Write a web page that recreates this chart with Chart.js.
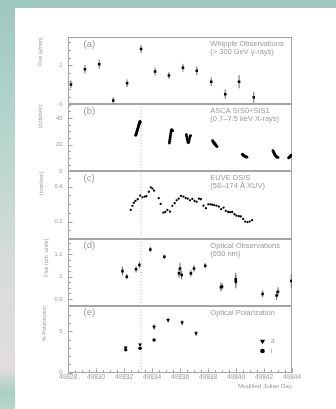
<!DOCTYPE html>
<html>
<head>
<meta charset="utf-8">
<script src="https://cdn.jsdelivr.net/npm/chart.js@4.4.1/dist/chart.umd.min.js"></script>
<style>
    html, body { margin: 0; padding: 0; }
    body {
        width: 336px; height: 409px; overflow: hidden; position: relative;
        background: linear-gradient(to bottom, #9fc8bf 0%, #b4d4cc 30%, #d6dcda 65%, #e2dddd 90%, #a9cfc5 96%, #b8d6cd 100%);
    }
    #sheet { position: absolute; left: 15px; top: 8px; right: 0; bottom: 0; background: #fff; }
    canvas { position: absolute; left: 0; top: 0; }
</style>
</head>
<body>
<div id="sheet"></div>
<canvas id="panelA" width="336" height="409"></canvas>
<canvas id="panelB" width="336" height="409"></canvas>
<canvas id="panelC" width="336" height="409"></canvas>
<canvas id="panelD" width="336" height="409"></canvas>
<canvas id="panelE" width="336" height="409"></canvas>
<script>
// Shared time axis
const MJD_MIN = 49828;
const MJD_MAX = 49844;
const MJD_TICK_LABELS = [49828, 49830, 49832, 49834, 49836, 49838, 49840, 49842, 49844];
const FLARE_MJD = 49833.22;

// (a) Whipple, > 300 GeV gamma rays
const WHIPPLE_MJD = [49828.21, 49829.21, 49830.23, 49831.23, 49832.22, 49833.22, 49834.22,
    49835.21, 49836.21, 49837.20, 49838.23, 49839.23, 49840.22, 49841.27];
const WHIPPLE_FLUX = [0.51, 0.90, 1.03, 0.10, 0.54, 1.42, 0.84, 0.74, 0.94, 0.86, 0.58, 0.26, 0.58, 0.18];
const WHIPPLE_ERR = [0.10, 0.11, 0.12, 0.08, 0.10, 0.10, 0.10, 0.09, 0.10, 0.11, 0.11, 0.12, 0.17, 0.14];

// (b) ASCA SIS0+SIS1
const ASCA_MJD = [
    49832.84, 49832.86, 49832.88, 49832.90, 49832.92, 49832.94, 49832.96, 49832.98, 49833.00,
    49833.02, 49833.04, 49833.06, 49833.08, 49833.10, 49833.12, 49833.14, 49833.16,
    49835.24, 49835.26, 49835.28, 49835.30, 49835.32, 49835.34, 49835.36, 49835.38, 49835.41, 49835.44, 49835.47,
    49836.45, 49836.48, 49836.51, 49836.54, 49836.57, 49836.60, 49836.63, 49836.66, 49836.69, 49836.72, 49836.75,
    49838.33, 49838.36, 49838.39, 49838.42, 49838.44, 49838.47, 49838.50, 49838.53, 49838.56, 49838.60, 49838.64,
    49840.46, 49840.49, 49840.52, 49840.55, 49840.58, 49840.62, 49840.66, 49840.70, 49840.74, 49840.78,
    49842.64, 49842.67, 49842.70, 49842.73, 49842.76, 49842.80, 49842.84, 49842.88, 49842.92, 49842.96, 49843.00,
    49843.76, 49843.79, 49843.82, 49843.85, 49843.88, 49843.91, 49843.94, 49843.97
];
const ASCA_RATE = [
    27.0, 27.6, 28.3, 28.9, 29.7, 30.4, 31.0, 31.8, 32.5, 33.1, 33.9, 34.6, 35.3, 36.0, 36.8, 37.3, 36.6,
    21.2, 22.6, 24.0, 25.5, 26.9, 28.3, 29.6, 30.6, 31.2, 30.7, 30.3,
    27.4, 25.9, 24.4, 23.0, 21.7, 21.3, 22.3, 23.6, 24.9, 26.0, 26.8,
    22.9, 22.1, 21.6, 21.9, 20.9, 20.4, 20.8, 19.9, 19.4, 19.0, 18.6,
    12.8, 12.4, 12.0, 11.7, 11.5, 11.2, 11.0, 10.8, 10.7, 10.6,
    15.4, 14.8, 14.1, 13.4, 12.7, 12.0, 11.4, 11.0, 10.7, 10.5, 10.4,
    10.0, 10.3, 10.6, 10.9, 11.3, 11.6, 11.9, 12.1
];

// (c) EUVE DS/S
const EUVE_MJD = [
    49832.48, 49832.60, 49832.70, 49832.82, 49832.98, 49833.15, 49833.32, 49833.48, 49833.60, 49833.77,
    49833.91, 49834.03, 49834.15, 49834.48, 49834.62, 49834.81, 49834.95, 49835.10, 49835.29, 49835.45,
    49835.62, 49835.76, 49835.90, 49836.07, 49836.24, 49836.40, 49836.55, 49836.71, 49836.88, 49837.04,
    49837.19, 49837.35, 49837.49, 49837.68, 49837.85, 49838.02, 49838.16, 49838.30, 49838.44, 49838.61,
    49838.78, 49838.94, 49839.11, 49839.27, 49839.44, 49839.58, 49839.73, 49839.89, 49840.03, 49840.20,
    49840.34, 49840.51, 49840.65, 49840.82, 49840.98, 49841.15
];
const EUVE_RATE = [
    0.267, 0.290, 0.307, 0.318, 0.328, 0.349, 0.339, 0.343, 0.345, 0.371,
    0.396, 0.389, 0.377, 0.334, 0.301, 0.251, 0.255, 0.267, 0.257, 0.290,
    0.305, 0.322, 0.331, 0.347, 0.343, 0.335, 0.331, 0.322, 0.330, 0.318,
    0.313, 0.331, 0.328, 0.291, 0.277, 0.299, 0.299, 0.297, 0.294, 0.291,
    0.286, 0.271, 0.280, 0.261, 0.255, 0.254, 0.255, 0.242, 0.234, 0.231,
    0.229, 0.215, 0.200, 0.197, 0.200, 0.208
];

// (d) Optical photometry, 650 nm
const OPT_MJD = [49831.89, 49832.20, 49832.86, 49833.10, 49833.88, 49834.88, 49835.93, 49836.00, 49836.12, 49836.78,
    49837.00, 49837.80, 49838.92, 49839.00, 49839.98, 49839.99, 49841.90, 49842.90, 49843.00, 49843.95];
const OPT_FLUX = [1.025, 1.000, 1.033, 1.052, 1.122, 1.089, 1.015, 1.037, 1.008, 1.015,
    1.037, 1.049, 0.953, 0.956, 0.988, 0.978, 0.923, 0.916, 0.933, 0.981];
const OPT_ERR = [0.020, 0.012, 0.015, 0.015, 0.012, 0.010, 0.020, 0.025, 0.020, 0.015,
    0.015, 0.012, 0.020, 0.015, 0.030, 0.030, 0.015, 0.020, 0.020, 0.030];

// (e) Optical polarization
const POL_A_MJD = [49832.12, 49833.15, 49834.15, 49835.15, 49836.15, 49837.15];
const POL_A = [3.02, 3.39, 5.53, 6.37, 6.05, 4.76];
const POL_A_ERR = [0.15, 0.15, 0.35, 0.30, 0.30, 0.30];
const POL_I_MJD = [49832.12, 49833.15, 49834.15];
const POL_I = [2.78, 2.95, 3.95];

// Look
const FONT = '"Liberation Sans", Arial, sans-serif';
const TEXT = '#9a9a9a';
const FRAME = '#a4a4a4';
const INK = '#000';
const ERR_INK = '#6a6a6a';
const AXIS_W = 68;
const RIGHT_PAD = 44;
const CANVAS_H = 409;

Chart.defaults.font.family = FONT;

// Build chart data from the arrays
const pts = (xs, ys) => xs.map((x, i) => ({ x, y: ys[i] }));
const errBars = (xs, ys, es) => xs.flatMap((x, i) => [
    { x, y: ys[i] - es[i] }, { x, y: ys[i] + es[i] }, { x, y: null }
]);
const flareLine = (lo, hi) => ({
    type: 'line', data: [{ x: FLARE_MJD, y: lo }, { x: FLARE_MJD, y: hi }],
    borderColor: '#b4b4b4', borderWidth: 1, borderDash: [1, 2], pointRadius: 0, order: 3
});
const errSet = data => ({
    type: 'line', data, borderColor: ERR_INK, borderWidth: 1, pointRadius: 0, spanGaps: false, order: 2
});
const pointSet = (data, style, radius, extra) => Object.assign({
    type: 'scatter', data, pointStyle: style, pointRadius: radius, pointBorderWidth: 0,
    backgroundColor: INK, borderColor: INK, order: 0
}, extra || {});

// Frame, inward ticks, panel texts, legend
const panelDecor = {
    id: 'panelDecor',
    beforeDatasetsDraw(chart, args, opts) {
        const { ctx, chartArea: a, scales } = chart;
        ctx.save();
        ctx.strokeStyle = FRAME;
        ctx.lineWidth = 1;
        const L = Math.round(a.left) + 0.5, R = Math.round(a.right) - 0.5;
        const T = Math.round(a.top) + 0.5, B = Math.round(a.bottom) - 0.5;
        ctx.strokeRect(L, T, R - L, B - T);
        ctx.beginPath();
        scales.y.ticks.forEach(t => {
            const py = Math.round(scales.y.getPixelForValue(t.value)) + 0.5;
            const len = opts.yMajor.some(v => Math.abs(v - t.value) < 1e-9) ? 4 : 2.5;
            ctx.moveTo(L, py); ctx.lineTo(L + len, py);
        });
        if (opts.xTicks) {
            scales.x.ticks.forEach(t => {
                const px = Math.round(scales.x.getPixelForValue(t.value)) + 0.5;
                const len = MJD_TICK_LABELS.includes(t.value) ? 4 : 2.5;
                ctx.moveTo(px, B); ctx.lineTo(px, B - len);
            });
        }
        ctx.stroke();
        ctx.restore();
    },
    afterDatasetsDraw(chart, args, opts) {
        const { ctx, chartArea: a } = chart;
        ctx.save();
        ctx.fillStyle = TEXT;
        ctx.textBaseline = 'middle';
        ctx.textAlign = 'left';
        ctx.font = '9.5px ' + FONT;
        ctx.fillText(opts.label, a.left + 15.5, a.top + 6.8);
        ctx.font = '7.5px ' + FONT;
        opts.lines.forEach((s, i) => ctx.fillText(s, a.left + 142.3, a.top + 6.8 + i * 8.3));
        if (opts.legend) {
            const lx = a.left + 194.5;
            const ty = a.top + 35.7, cy = a.top + 45;
            ctx.fillStyle = INK;
            ctx.beginPath();
            ctx.moveTo(lx - 2.6, ty - 2); ctx.lineTo(lx + 2.6, ty - 2); ctx.lineTo(lx, ty + 2.5);
            ctx.closePath(); ctx.fill();
            ctx.beginPath(); ctx.arc(lx, cy, 2.3, 0, Math.PI * 2); ctx.fill();
            ctx.fillStyle = TEXT;
            ctx.font = '6.5px ' + FONT;
            ctx.fillText(opts.legend[0], lx + 8.5, ty);
            ctx.fillText(opts.legend[1], lx + 8.5, cy);
        }
        ctx.restore();
    }
};

function yAxis(min, max, step, labels, title, titleOffset) {
    return {
        type: 'linear', min, max,
        afterFit: s => { s.width = AXIS_W; },
        grid: { display: false, drawTicks: false, tickLength: 0 },
        border: { display: false },
        ticks: {
            stepSize: step, autoSkip: false, includeBounds: false, padding: 5.5,
            color: TEXT, font: { size: 5.8 },
            callback: v => {
                const m = labels.find(l => Math.abs(l - v) < 1e-9);
                return m === undefined ? '' : String(m);
            }
        },
        title: { display: true, text: title, align: 'end', color: TEXT, font: { size: 5.5 }, padding: { top: titleOffset, bottom: 0 } }
    };
}

function xAxis(show) {
    if (!show) return { type: 'linear', min: MJD_MIN, max: MJD_MAX, display: false };
    return {
        type: 'linear', min: MJD_MIN, max: MJD_MAX,
        afterFit: s => { s.height = 20; },
        grid: { display: false, drawTicks: false, tickLength: 0 },
        border: { display: false },
        ticks: {
            stepSize: 0.5, autoSkip: false, includeBounds: false, maxRotation: 0, minRotation: 0, padding: 1,
            color: TEXT, font: { size: 6.5 },
            callback: v => MJD_TICK_LABELS.includes(v) ? String(v) : ''
        },
        title: { display: true, text: 'Modified Julian Day', align: 'end', color: TEXT, font: { size: 6.2 }, padding: { top: 0, bottom: 3 } }
    };
}

function makePanel(id, top, bottom, datasets, y, decor, showX) {
    new Chart(document.getElementById(id), {
        type: 'scatter',
        data: { datasets },
        options: {
            responsive: false,
            animation: false,
            events: [],
            devicePixelRatio: 1,
            layout: { padding: { top, bottom: CANVAS_H - bottom - (showX ? 20 : 0), left: 0, right: RIGHT_PAD } },
            scales: { x: xAxis(showX), y },
            plugins: { legend: { display: false }, tooltip: { enabled: false }, panelDecor: decor }
        },
        plugins: [panelDecor]
    });
}

// (a)
makePanel('panelA', 37.3, 104.3, [
    pointSet(pts(WHIPPLE_MJD, WHIPPLE_FLUX), 'rect', 1.8),
    errSet(errBars(WHIPPLE_MJD, WHIPPLE_FLUX, WHIPPLE_ERR))
], yAxis(0, 1.72, 0.2, [0, 1], 'Flux (γ/min)', 37.2),
{ label: '(a)', lines: ['Whipple Observations', '(> 300 GeV γ-rays)'], yMajor: [0, 1] });

// (b)
makePanel('panelB', 104.3, 171.3, [
    pointSet(pts(ASCA_MJD, ASCA_RATE), 'circle', 1.4),
    flareLine(0, 50.2)
], yAxis(0, 50.2, 5, [0, 20, 40], '(cnts/sec)', 36.7),
{ label: '(b)', lines: ['ASCA SIS0+SIS1', '(0.7–7.5 keV X-rays)'], yMajor: [0, 20, 40] });

// (c)
makePanel('panelC', 171.3, 238.7, [
    pointSet(pts(EUVE_MJD, EUVE_RATE), 'circle', 1.15),
    flareLine(0.102, 0.488)
], yAxis(0.102, 0.488, 0.05, [0.2, 0.4], '(cnts/sec)', 37.7),
{ label: '(c)', lines: ['EUVE DS/S', '(58–174 Å XUV)'], yMajor: [0.2, 0.4] });

// (d)
makePanel('panelD', 238.7, 306, [
    pointSet(pts(OPT_MJD, OPT_FLUX), 'rect', 1.8),
    errSet(errBars(OPT_MJD, OPT_FLUX, OPT_ERR)),
    flareLine(0.869, 1.17)
], yAxis(0.869, 1.17, 0.025, [0.9, 1, 1.1], 'Flux (arb. units)', 42.7),
{ label: '(d)', lines: ['Optical Observations', '(650 nm)'], yMajor: [0.9, 1, 1.1] });

// (e)
makePanel('panelE', 306, 372.7, [
    pointSet(pts(POL_A_MJD, POL_A), 'triangle', 2.2, { pointRotation: 180 }),
    pointSet(pts(POL_I_MJD, POL_I), 'circle', 1.7),
    errSet(errBars(POL_A_MJD, POL_A, POL_A_ERR)),
    flareLine(0, 8.06)
], yAxis(0, 8.06, 1, [0, 5], '% Polarization', 41.2),
{ label: '(e)', lines: ['Optical Polarization'], yMajor: [0, 5], xTicks: true, legend: ['a', 'i'] }, true);
</script>
</body>
</html>
